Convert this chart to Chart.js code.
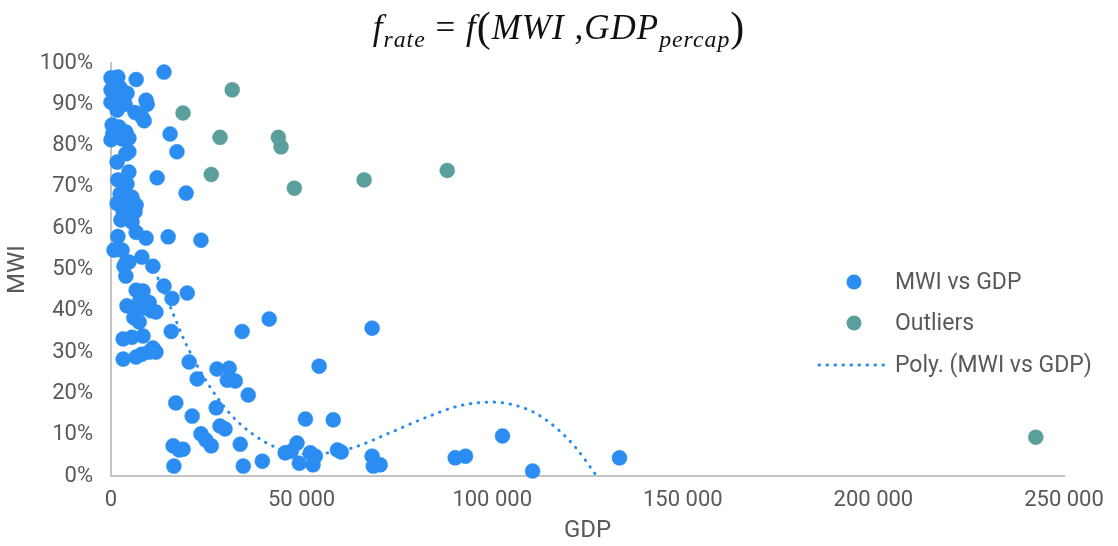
<!DOCTYPE html>
<html>
<head>
<meta charset="utf-8">
<title>MWI vs GDP</title>
<script src="https://cdn.jsdelivr.net/npm/chart.js@4.4.1/dist/chart.umd.min.js"></script>
<style>
  html, body { margin:0; padding:0; background:#fff; }
  #wrap { position:relative; width:1118px; height:546px; overflow:hidden; }
  #chart { position:absolute; left:0; top:0; }
  #title { position:absolute; left:0; width:1118px; top:3px; text-align:center;
           font-family:"Liberation Serif","DejaVu Serif",serif; font-style:italic; font-size:35px;
           letter-spacing:1px; color:#111; white-space:nowrap; }
  #title sub { font-size:0.68em; vertical-align:-0.35em; }
  #title .p { font-style:normal; font-size:1.2em; vertical-align:-0.05em; }
</style>
</head>
<body>
<div id="wrap">
  <canvas id="chart" width="1118" height="546"></canvas>
  <div id="title">f<sub>rate</sub> <span style="font-style:normal">=</span> f<span class="p">(</span>MWI ,GDP<sub>percap</sub><span class="p">)</span></div>
</div>
<script>
// MWI (%) against GDP per capita

// blue series: MWI vs GDP
const gdpMain = [
  0, 1800, 6600, 13900, 0, 800, 0, 2400, 4200, 1600, 3700, 9200, 9500, 6300, 8100, 8700,
  300, 2100, 500, 3900, 0, 2900, 4700, 15500, 3900, 4700, 17300, 1600, 1800, 4700, 12100,
  4200, 19700, 2400, 1600, 5500, 3900, 6600, 3200, 6300, 2600, 5500, 6600, 1800, 9200,
  15000, 23600, 800, 2900, 8100, 3900, 4700, 3400, 11000, 3900, 13900, 6600, 8400, 7600,
  20000, 16000, 4200, 7100, 10000, 8400, 10500, 11800, 6000, 7400, 41500, 34400, 15800,
  68500, 5500, 8400, 3200, 11000, 10000, 11800, 8100, 6600, 3200, 20500, 54600, 27800,
  31000, 22600, 30500, 32600, 36000, 17000, 27600, 21300, 51000, 58300, 28600, 29900,
  23600, 24900, 102700, 33900, 48800, 16300, 17900, 26300, 45700, 47300, 52300, 53600,
  60400, 59400, 68500, 90300, 93000, 133400, 16500, 34700, 39700, 49400, 53000, 68800,
  70600, 110600, 18900
];
const mwiMain = [
  96.4, 96.6, 96, 97.8, 93.5, 91, 90.5, 94, 92.7, 88.6, 90, 91, 90, 88, 87, 86,
  85, 84.5, 83, 83.3, 81.4, 81.6, 81.8, 82.8, 78, 78.5, 78.5, 76, 71.7, 73.6, 72.2,
  70.7, 68.5, 68.3, 66, 67.5, 65.6, 65.6, 64, 64, 62, 61.5, 59, 58, 57.6,
  57.9, 57.1, 54.7, 54.7, 53, 51.6, 51.8, 50.8, 50.8, 48.4, 46, 45, 44.8, 42.6,
  44.3, 43, 41.2, 41.2, 42, 40.7, 40, 39.7, 38.3, 37.3, 38, 35, 35,
  35.8, 33.6, 33.9, 33.2, 31, 30, 30, 29.5, 28.8, 28.3, 27.6, 26.6, 25.9,
  26.1, 23.5, 23.2, 23, 19.6, 17.7, 16.5, 14.5, 13.8, 13.6, 12.1, 11.4,
  10.2, 8.7, 9.7, 7.7, 8, 7.3, 6.3, 7.3, 5.6, 6, 5.6, 4.8,
  5.8, 6.3, 4.8, 4.4, 4.8, 4.4, 2.4, 2.4, 3.6, 3.1, 2.7, 2.4,
  2.7, 1.2, 6.5
];

// teal series: outliers
const gdpOut = [18900, 31800, 28600, 43900, 44600, 26300, 48100, 66400, 88200, 242600];
const mwiOut = [87.9, 93.5, 82, 82, 79.7, 73, 69.7, 71.7, 74, 9.4];

// dotted polynomial trendline, as traced on the picture
const gdpTrend = [12300, 15800, 19200, 23100, 27800, 31800, 36800, 42300, 49000, 56000, 63300,
                  73000, 83000, 91400, 99800, 110300, 117100, 121800, 127400];
const mwiTrend = [47.9, 40.4, 32.9, 25.9, 19.1, 14.5, 10.4, 7.3, 5.3, 5.5, 6.8,
                  10.4, 14.3, 17, 17.9, 15.7, 11.4, 7, 0];

// axis ticks
const xTicks = [0, 50000, 100000, 150000, 200000, 250000];
const yTicks = [0, 10, 20, 30, 40, 50, 60, 70, 80, 90, 100];

const BLUE = '#2B8DF1';
const TEAL = '#5A9F9B';
const GREY_TXT = '#595959';
const AXIS = '#C4C4C4';
const FONT = 'Roboto';

function pairs(xs, ys){ return xs.map((x,i)=>({ x, y: ys[i] })); }
function spaced(v){ return String(v).replace(/\B(?=(\d{3})+(?!\d))/g, ' '); }

// legend drawn over the plot area, like the original
const overlayLegend = {
  id: 'overlayLegend',
  afterDraw(chart){
    const ctx = chart.ctx;
    const rows = [
      { ds: chart.data.datasets[1], y: 282, kind: 'dot' },
      { ds: chart.data.datasets[2], y: 323, kind: 'dot' },
      { ds: chart.data.datasets[0], y: 365, kind: 'line' }
    ];
    ctx.save();
    ctx.font = '23px ' + FONT;
    ctx.textBaseline = 'middle';
    rows.forEach(r=>{
      if(r.kind === 'dot'){
        ctx.beginPath();
        ctx.fillStyle = r.ds.backgroundColor;
        ctx.arc(854, r.y, 7.5, 0, Math.PI*2);
        ctx.fill();
      } else {
        ctx.beginPath();
        ctx.strokeStyle = r.ds.borderColor;
        ctx.lineWidth = r.ds.borderWidth;
        ctx.lineCap = 'round';
        ctx.setLineDash(r.ds.borderDash);
        ctx.moveTo(819, r.y); ctx.lineTo(888, r.y);
        ctx.stroke();
        ctx.setLineDash([]);
      }
      ctx.fillStyle = GREY_TXT;
      ctx.fillText(r.ds.label, 895, r.y + 1);
    });
    ctx.restore();
  }
};

const chart = new Chart(document.getElementById('chart').getContext('2d'), {
  type: 'scatter',
  data: {
    datasets: [
      { type:'line', label:'Poly. (MWI vs GDP)', data: pairs(gdpTrend, mwiTrend),
        borderColor: BLUE, borderWidth: 3, borderDash: [0.5, 7.5], borderCapStyle: 'round',
        pointRadius: 0, fill: false, cubicInterpolationMode: 'monotone', order: 0 },
      { label:'MWI vs GDP', data: pairs(gdpMain, mwiMain), clip: false,
        backgroundColor: BLUE, borderColor: BLUE, borderWidth: 0.5, pointRadius: 7.5, order: 2 },
      { label:'Outliers', data: pairs(gdpOut, mwiOut), clip: false,
        backgroundColor: TEAL, borderColor: TEAL, borderWidth: 0.5, pointRadius: 7.5, order: 1 }
    ]
  },
  options: {
    responsive: false,
    animation: false,
    layout: { padding: { top: 63, right: 54, left: 0, bottom: 0 } },
    plugins: { legend: { display:false }, tooltip: { enabled:false }, title: { display:false } },
    scales: {
      x: {
        type: 'linear', min: xTicks[0], max: xTicks[xTicks.length-1],
        afterBuildTicks: s => { s.ticks = xTicks.map(v=>({ value: v })); },
        afterFit: s => { s.height = 70; },
        grid: { display:false, drawTicks:false },
        border: { display:true, color: AXIS, width: 2 },
        ticks: { color: GREY_TXT, font: { family: FONT, size: 22 }, padding: 11, maxRotation: 0,
                 callback: v => spaced(v) },
        title: { display:true, text:'GDP', color: GREY_TXT, font: { family: FONT, size: 24 },
                 padding: { top: 0, bottom: 1 } }
      },
      y: {
        type: 'linear', min: yTicks[0], max: yTicks[yTicks.length-1],
        afterBuildTicks: s => { s.ticks = yTicks.map(v=>({ value: v })); },
        afterFit: s => { s.width = 111; },
        grid: { display:false, drawTicks:false },
        border: { display:true, color: AXIS, width: 2 },
        ticks: { color: GREY_TXT, font: { family: FONT, size: 22 }, padding: 18,
                 callback: v => v + '%' },
        title: { display:true, text:'MWI', color: GREY_TXT, font: { family: FONT, size: 24 },
                 padding: { top: 4, bottom: 0 } }
      }
    }
  },
  plugins: [overlayLegend]
});
</script>
</body>
</html>
